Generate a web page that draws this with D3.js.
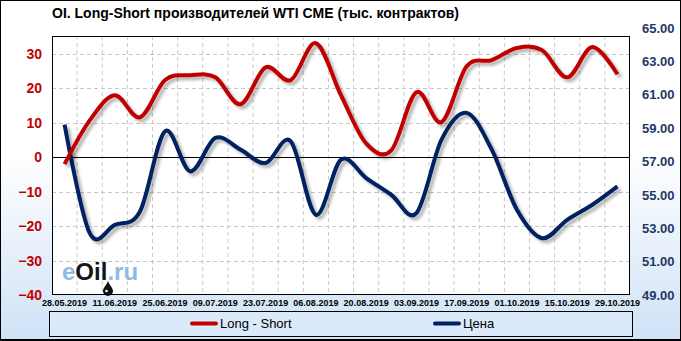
<!DOCTYPE html>
<meta charset="utf-8">
<style>
 body { margin: 0; }
 svg { display: block; }
 text { font-family: "Liberation Sans", Arial, sans-serif; }
</style>
<script src="https://d3js.org/d3.v7.min.js"></script>
<svg width="681" height="341"></svg>
<script>
const svg = d3.select('svg');

// weekly dates (every other one is labelled)
const dates = ['28.05.2019','04.06.2019','11.06.2019','18.06.2019','25.06.2019','02.07.2019',
  '09.07.2019','16.07.2019','23.07.2019','30.07.2019','06.08.2019','13.08.2019','20.08.2019',
  '27.08.2019','03.09.2019','10.09.2019','17.09.2019','24.09.2019','01.10.2019','08.10.2019',
  '15.10.2019','22.10.2019','29.10.2019'];
const longShort = [-2, 10.7, 18, 11.6, 22.4, 23.8, 23.2, 15.4, 26.1, 22.4, 33.1, 18,
  4, 2, 18.9, 10.2, 26.4, 28.2, 31.7, 31.1, 23.2, 32, 24.1];
const price = [59.2, 52.7, 53.2, 54.0, 58.8, 56.4, 58.4, 57.7, 56.9, 58.2, 53.8, 57.1,
  56.0, 55.0, 53.9, 58.3, 59.9, 57.7, 54.1, 52.4, 53.5, 54.4, 55.5];
const leftTicks = [-40, -30, -20, -10, 0, 10, 20, 30];
const rightTicks = [49, 51, 53, 55, 57, 59, 61, 63, 65];

const W = 681, H = 341;
const plot = {l: 52, r: 630, t: 36, b: 295};

const defs = svg.append('defs');
const grad = defs.append('linearGradient').attr('id','bg')
  .attr('x1',0).attr('y1',0).attr('x2',0).attr('y2',1);
grad.append('stop').attr('offset','45%').attr('stop-color','#ffffff');
grad.append('stop').attr('offset','100%').attr('stop-color','#cfe2f6');
const shadow = defs.append('filter').attr('id','shadow')
  .attr('x','-5%').attr('y','-5%').attr('width','110%').attr('height','120%');
shadow.append('feGaussianBlur').attr('in','SourceAlpha').attr('stdDeviation',1.6).attr('result','b');
shadow.append('feOffset').attr('in','b').attr('dx',3).attr('dy',3).attr('result','o');
shadow.append('feComponentTransfer').attr('in','o').attr('result','s')
  .append('feFuncA').attr('type','linear').attr('slope',0.3);
const merge = shadow.append('feMerge');
merge.append('feMergeNode').attr('in','s');
merge.append('feMergeNode').attr('in','SourceGraphic');

// background + frame
svg.append('rect').attr('x',0.5).attr('y',0.5).attr('width',W-1).attr('height',H-1)
  .attr('fill','url(#bg)').attr('stroke','#000');
svg.append('line').attr('x1',0).attr('x2',W).attr('y1',H-1).attr('y2',H-1)
  .attr('stroke','#000').attr('stroke-width',2);

svg.append('text').attr('x',52).attr('y',18)
  .attr('font-size',14).attr('font-weight','bold')
  .text('OI. Long-Short производителей WTI CME (тыс. контрактов)');

const x = d3.scaleBand().domain(dates).range([plot.l, plot.r]);
const yL = d3.scaleLinear().domain([-40, 35.2]).range([plot.b, plot.t]);
const yR = d3.scaleLinear().domain([49, 64.5]).range([plot.b, plot.t]);
const cx = d => x(d) + x.bandwidth() / 2;

svg.append('rect').attr('x',plot.l).attr('y',plot.t)
  .attr('width',plot.r-plot.l).attr('height',plot.b-plot.t).attr('fill','#fff');

// grid
svg.append('g').selectAll('line').data(dates.slice(1)).join('line')
  .attr('x1',d=>x(d)).attr('x2',d=>x(d)).attr('y1',plot.t).attr('y2',plot.b)
  .attr('stroke','#c8c8c8').attr('stroke-dasharray','4,3');
svg.append('g').selectAll('line').data(leftTicks.filter(v=>v!==0 && v!==-40)).join('line')
  .attr('x1',plot.l).attr('x2',plot.r).attr('y1',d=>Math.round(yL(d))+0.5).attr('y2',d=>Math.round(yL(d))+0.5)
  .attr('stroke','#c8c8c8').attr('stroke-dasharray','4,3');

// watermark
const wm = svg.append('text').attr('x',62).attr('y',280).attr('font-size',24).attr('font-weight','bold');
wm.append('tspan').attr('fill','#8dbbe3').text('e');
wm.append('tspan').attr('fill','#151515').text('Oil');
wm.append('tspan').attr('fill','#8dbbe3').text('.ru');
svg.append('path').attr('d','M108,281 C106,286 103,288 103,291 A5,5 0 0 0 113,291 C113,288 110,286 108,281 Z')
  .attr('fill','#111');
svg.append('circle').attr('cx',106.5).attr('cy',291).attr('r',1.3).attr('fill','#fff');

// zero line
svg.append('line').attr('x1',plot.l).attr('x2',plot.r)
  .attr('y1',Math.round(yL(0))+0.5).attr('y2',Math.round(yL(0))+0.5).attr('stroke','#000');

// axes labels
const axL = d3.axisLeft(yL).tickValues(leftTicks).tickSize(0).tickPadding(10);
svg.append('g').attr('transform',`translate(${plot.l},0)`).call(axL)
  .call(g=>g.select('.domain').remove())
  .selectAll('text').attr('font-size',14).attr('font-weight','bold').attr('fill','#c00000')
  .attr('font-family','"Liberation Sans", Arial, sans-serif');

const yRlab = d3.scaleLinear().domain([49, 65]).range([plot.b, 28]);
const axR = d3.axisRight(yRlab).tickValues(rightTicks).tickSize(0).tickPadding(12).tickFormat(d3.format('.2f'));
svg.append('g').attr('transform',`translate(${plot.r},0)`).call(axR)
  .call(g=>g.select('.domain').remove())
  .selectAll('text').attr('font-size',13).attr('font-weight','bold').attr('fill','#1f3864')
  .attr('font-family','"Liberation Sans", Arial, sans-serif');

const axB = d3.axisBottom(x).tickValues(dates.filter((d,i)=>i%2===0)).tickSize(0).tickPadding(5);
svg.append('g').attr('transform',`translate(0,${plot.b})`).call(axB)
  .call(g=>g.select('.domain').remove())
  .selectAll('text').attr('font-size',9).attr('font-weight','bold').attr('fill','#000')
  .attr('font-family','"Liberation Sans", Arial, sans-serif');

// series
const lineL = d3.line().x((d,i)=>cx(dates[i])).y(d=>yL(d)).curve(d3.curveCardinal);
const lineR = d3.line().x((d,i)=>cx(dates[i])).y(d=>yR(d)).curve(d3.curveCardinal);
svg.append('path').datum(price).attr('d',lineR).attr('fill','none')
  .attr('stroke','#002060').attr('stroke-width',4).attr('filter','url(#shadow)');
svg.append('path').datum(longShort).attr('d',lineL).attr('fill','none')
  .attr('stroke','#c00000').attr('stroke-width',4).attr('filter','url(#shadow)');

// plot frame
svg.append('rect').attr('x',plot.l+0.5).attr('y',plot.t+0.5)
  .attr('width',plot.r-plot.l-1).attr('height',plot.b-plot.t-1)
  .attr('fill','none').attr('stroke','#000');

// legend
svg.append('rect').attr('x',49.5).attr('y',311.5).attr('width',583).attr('height',25)
  .attr('fill','#dbeafa').attr('stroke','#000');
const legend = [{name:'Long - Short', color:'#c00000', x:190}, {name:'Цена', color:'#002060', x:433}];
const lg = svg.append('g').selectAll('g').data(legend).join('g');
lg.append('line').attr('x1',d=>d.x+2).attr('x2',d=>d.x+26).attr('y1',323.5).attr('y2',323.5)
  .attr('stroke',d=>d.color).attr('stroke-width',4).attr('stroke-linecap','round');
lg.append('text').attr('x',d=>d.x+30).attr('y',328).attr('font-size',13).text(d=>d.name);
</script>
